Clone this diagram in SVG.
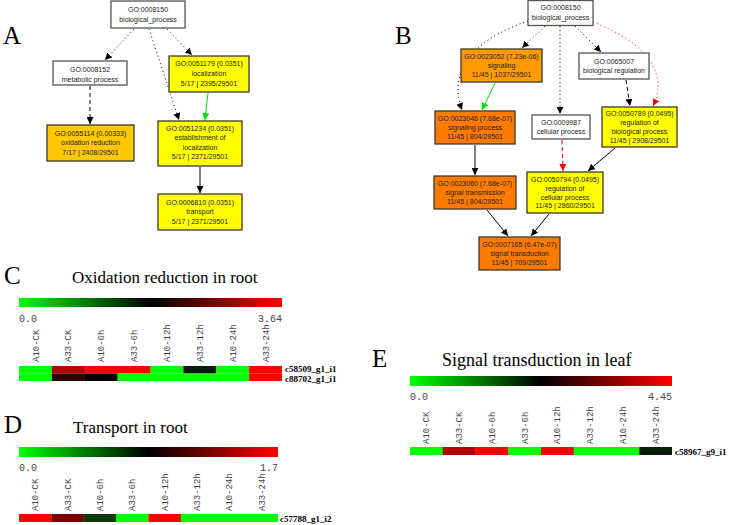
<svg xmlns="http://www.w3.org/2000/svg" width="736" height="525" viewBox="0 0 736 525">
<style>
.bx{stroke:#3a3a2a;stroke-width:1.3}
.w{fill:#ffffff;stroke:#555}
.y{fill:#ffff00}
.g{fill:#ffc800}
.o1{fill:#ff9a00}
.o2{fill:#ff7a00}
.t{font-family:"Liberation Sans",Arial,sans-serif;font-size:7px;fill:#222;text-anchor:middle}
.e{fill:none;stroke:#000;stroke-width:1}
.dot{stroke-dasharray:1,3}
.dash{stroke-dasharray:4,3}
.pl{font-family:"Liberation Serif","Times New Roman",serif;font-size:25px;fill:#000}
.ti{font-family:"Liberation Serif","Times New Roman",serif;font-size:17px;fill:#000}
.sc{font-family:"Liberation Mono","DejaVu Sans Mono",monospace;font-size:10px;fill:#444}
.cl{font-family:"Liberation Mono","DejaVu Sans Mono",monospace;font-size:9px;fill:#444}
.rl{font-family:"Liberation Serif","Times New Roman",serif;font-size:9px;font-weight:bold;fill:#000}
.gr{fill:#00ff00}.rd{fill:#ff0000}
</style>
<defs>
<marker id="ab" viewBox="0 0 10 10" refX="10" refY="5" markerWidth="7" markerHeight="7" markerUnits="userSpaceOnUse" orient="auto"><path d="M0,0 L10,5 L0,10 z" fill="#000"/></marker>
<marker id="ag" viewBox="0 0 10 10" refX="10" refY="5" markerWidth="7" markerHeight="7" markerUnits="userSpaceOnUse" orient="auto"><path d="M0,0 L10,5 L0,10 z" fill="#00dd00"/></marker>
<marker id="ar" viewBox="0 0 10 10" refX="10" refY="5" markerWidth="7" markerHeight="7" markerUnits="userSpaceOnUse" orient="auto"><path d="M0,0 L10,5 L0,10 z" fill="#ff0000"/></marker>
<linearGradient id="grad" x1="0" y1="0" x2="1" y2="0">
<stop offset="0" stop-color="#00ff00"/><stop offset="0.5" stop-color="#000000"/><stop offset="1" stop-color="#ff0000"/>
</linearGradient>
</defs>

<text class="pl" x="3" y="44">A</text>
<text class="pl" x="395" y="44">B</text>

<g id="connectors">
<line class="e dot" x1="134" y1="29" x2="105" y2="60" marker-end="url(#ab)"/>
<line class="e dot" x1="167" y1="29" x2="192" y2="55" marker-end="url(#ab)"/>
<line class="e dot" x1="149" y1="29" x2="179" y2="120" marker-end="url(#ab)"/>
<line class="e dash" x1="90" y1="86" x2="90" y2="124" marker-end="url(#ab)"/>
<line class="e" style="stroke:#00dd00" x1="208" y1="93" x2="205" y2="120" marker-end="url(#ag)"/>
<line class="e" x1="200" y1="167" x2="200" y2="193" marker-end="url(#ab)"/>

<line class="e dot" x1="545" y1="26" x2="522" y2="48" marker-end="url(#ab)"/>
<path class="e dot" d="M528,21 C472,40 448,72 462,110" marker-end="url(#ab)"/>
<line class="e dot" x1="560" y1="26" x2="560" y2="114" marker-end="url(#ab)"/>
<line class="e dot" x1="575" y1="26" x2="601" y2="52" marker-end="url(#ab)"/>
<path class="e dot" style="stroke:#ff0000" d="M593,22 C650,44 668,76 653,106" marker-end="url(#ar)"/>
<line class="e" style="stroke:#00dd00" x1="495" y1="83" x2="482" y2="110" marker-end="url(#ag)"/>
<line class="e dash" x1="626" y1="80" x2="630" y2="106" marker-end="url(#ab)"/>
<line class="e" x1="475" y1="145" x2="475" y2="175" marker-end="url(#ab)"/>
<line class="e dash" style="stroke:#ff0000" x1="562" y1="140" x2="563" y2="171" marker-end="url(#ar)"/>
<line class="e" x1="615" y1="148" x2="588" y2="171" marker-end="url(#ab)"/>
<line class="e" x1="487" y1="210" x2="508" y2="236" marker-end="url(#ab)"/>
<line class="e" x1="549" y1="214" x2="531" y2="236" marker-end="url(#ab)"/>
</g>

<g id="A_GO0008150"><rect class="bx w" x="111" y="1" width="74" height="27"/><text class="t" x="148" y="11.5">GO:0008150</text><text class="t" x="148" y="21.5">biological_process</text></g>
<g id="A_GO0008152"><rect class="bx w" x="53" y="61" width="74" height="24"/><text class="t" x="90" y="71.5">GO:0008152</text><text class="t" x="90" y="81.5">metabolic process</text></g>
<g id="A_GO0051179"><rect class="bx y" x="169" y="56" width="80" height="36"/><text class="t" x="209" y="65.5">GO:0051179 (0.0351)</text><text class="t" x="209" y="75.5">localization</text><text class="t" x="209" y="85.5">5/17 | 2395/29501</text></g>
<g id="A_GO0055114"><rect class="bx g" x="47" y="125" width="87" height="36"/><text class="t" x="90.5" y="135.5">GO:0055114 (0.00333)</text><text class="t" x="90.5" y="145">oxidation reduction</text><text class="t" x="90.5" y="154.5">7/17 | 2408/29501</text></g>
<g id="A_GO0051234"><rect class="bx y" x="158" y="121" width="84" height="45"/><text class="t" x="200" y="130.5">GO:0051234 (0.0351)</text><text class="t" x="200" y="140">establishment of</text><text class="t" x="200" y="149.5">localization</text><text class="t" x="200" y="159">5/17 | 2371/29501</text></g>
<g id="A_GO0006810"><rect class="bx y" x="158" y="194" width="84" height="36"/><text class="t" x="200" y="204.5">GO:0006810 (0.0351)</text><text class="t" x="200" y="214">transport</text><text class="t" x="200" y="223.5">5/17 | 2371/29501</text></g>

<g id="B_GO0008150"><rect class="bx w" x="528" y="0.5" width="65" height="25"/><text class="t" x="560.5" y="10">GO:0008150</text><text class="t" x="560.5" y="19.5">biological_process</text></g>
<g id="B_GO0023052"><rect class="bx o1" x="461" y="49" width="81" height="33"/><text class="t" x="501.5" y="58.5">GO:0023052 (7.23e-06)</text><text class="t" x="501.5" y="67.5">signaling</text><text class="t" x="501.5" y="76.5">11/45 | 1037/29501</text></g>
<g id="B_GO0065007"><rect class="bx w" x="579" y="53" width="70" height="26"/><text class="t" x="614" y="63.5">GO:0065007</text><text class="t" x="614" y="72.5">biological regulation</text></g>
<g id="B_GO0023046"><rect class="bx o2" x="435" y="111" width="80" height="33"/><text class="t" x="475" y="121">GO:0023046 (7.68e-07)</text><text class="t" x="475" y="129.5">signaling process</text><text class="t" x="475" y="138.5">11/45 | 804/29501</text></g>
<g id="B_GO0009987"><rect class="bx w" x="532" y="115" width="58" height="24"/><text class="t" x="561" y="125">GO:0009987</text><text class="t" x="561" y="133.5">cellular process</text></g>
<g id="B_GO0050789"><rect class="bx y" x="602" y="107" width="75" height="40"/><text class="t" x="639.5" y="116">GO:0050789 (0.0495)</text><text class="t" x="639.5" y="125">regulation of</text><text class="t" x="639.5" y="133.5">biological process</text><text class="t" x="639.5" y="142.5">11/45 | 2908/29501</text></g>
<g id="B_GO0023060"><rect class="bx o2" x="434" y="176" width="82" height="33"/><text class="t" x="475" y="186">GO:0023060 (7.68e-07)</text><text class="t" x="475" y="195">signal transmission</text><text class="t" x="475" y="203.5">11/45 | 804/29501</text></g>
<g id="B_GO0050794"><rect class="bx y" x="527" y="172" width="76" height="41"/><text class="t" x="565" y="181.5">GO:0050794 (0.0495)</text><text class="t" x="565" y="190.5">regulation of</text><text class="t" x="565" y="199.5">cellular process</text><text class="t" x="565" y="208">11/45 | 2860/29501</text></g>
<g id="B_GO0007165"><rect class="bx o2" x="479" y="237" width="81" height="33"/><text class="t" x="519.5" y="247">GO:0007165 (6.47e-07)</text><text class="t" x="519.5" y="256">signal transduction</text><text class="t" x="519.5" y="264.5">11/45 | 709/29501</text></g>

<g id="heatmap_C">
<text class="pl" x="4" y="284">C</text>
<text class="ti" x="72" y="283">Oxidation reduction in root</text>
<rect x="19" y="298" width="263" height="9" fill="url(#grad)"/>
<text class="sc" x="19" y="322">0.0</text>
<text class="sc" x="282" y="322" text-anchor="end">3.64</text>
<g class="cl">
<text transform="translate(38.5,362) rotate(-90)">A10-CK</text>
<text transform="translate(71.3,362) rotate(-90)">A33-CK</text>
<text transform="translate(104.2,362) rotate(-90)">A10-6h</text>
<text transform="translate(137.1,362) rotate(-90)">A33-6h</text>
<text transform="translate(169.9,362) rotate(-90)">A10-12h</text>
<text transform="translate(202.8,362) rotate(-90)">A33-12h</text>
<text transform="translate(235.7,362) rotate(-90)">A10-24h</text>
<text transform="translate(268.6,362) rotate(-90)">A33-24h</text>
</g>
<rect class="gr" x="19" y="366" width="33" height="7.5"/>
<rect x="51.9" y="366" width="33" height="7.5" fill="#b00000"/>
<rect class="rd" x="84.7" y="366" width="66" height="7.5"/>
<rect class="gr" x="150.5" y="366" width="33" height="7.5"/>
<rect x="183.4" y="366" width="33" height="7.5" fill="#0a1a0a"/>
<rect class="gr" x="216.2" y="366" width="33" height="7.5"/>
<rect class="rd" x="249.1" y="366" width="32.9" height="7.5"/>
<rect class="gr" x="19" y="373.5" width="33" height="7.5"/>
<rect x="51.9" y="373.5" width="33" height="7.5" fill="#2e0505"/>
<rect x="84.7" y="373.5" width="33" height="7.5" fill="#080000"/>
<rect class="gr" x="117.6" y="373.5" width="131.6" height="7.5"/>
<rect class="rd" x="249.1" y="373.5" width="32.9" height="7.5"/>
<text class="rl" x="285" y="372">c58509_g1_i1</text>
<text class="rl" x="285" y="382">c88702_g1_i1</text>
</g>

<g id="heatmap_D">
<text class="pl" x="4" y="433">D</text>
<text class="ti" x="73" y="433">Transport in root</text>
<rect x="19" y="447" width="259" height="10" fill="url(#grad)"/>
<text class="sc" x="19" y="471">0.0</text>
<text class="sc" x="278" y="471" text-anchor="end">1.7</text>
<g class="cl">
<text transform="translate(38.2,511) rotate(-90)">A10-CK</text>
<text transform="translate(70.6,511) rotate(-90)">A33-CK</text>
<text transform="translate(102.9,511) rotate(-90)">A10-6h</text>
<text transform="translate(135.3,511) rotate(-90)">A33-6h</text>
<text transform="translate(167.7,511) rotate(-90)">A10-12h</text>
<text transform="translate(200.1,511) rotate(-90)">A33-12h</text>
<text transform="translate(232.4,511) rotate(-90)">A10-24h</text>
<text transform="translate(264.8,511) rotate(-90)">A33-24h</text>
</g>
<rect class="rd" x="19" y="514" width="32.5" height="8"/>
<rect x="51.4" y="514" width="32.5" height="8" fill="#7a0000"/>
<rect x="83.8" y="514" width="32.5" height="8" fill="#0e3a0e"/>
<rect class="gr" x="116.1" y="514" width="32.5" height="8"/>
<rect class="rd" x="148.5" y="514" width="32.5" height="8"/>
<rect class="gr" x="180.9" y="514" width="97.1" height="8"/>
<text class="rl" x="280" y="522">c57788_g1_i2</text>
</g>

<g id="heatmap_E">
<text class="pl" x="372" y="367">E</text>
<text class="ti" x="442" y="366" style="font-size:18px">Signal transduction in leaf</text>
<rect x="410" y="376" width="262" height="10" fill="url(#grad)"/>
<text class="sc" x="410" y="400">0.0</text>
<text class="sc" x="672" y="400" text-anchor="end">4.45</text>
<g class="cl">
<text transform="translate(429.4,444) rotate(-90)">A10-CK</text>
<text transform="translate(462.1,444) rotate(-90)">A33-CK</text>
<text transform="translate(494.9,444) rotate(-90)">A10-6h</text>
<text transform="translate(527.6,444) rotate(-90)">A33-6h</text>
<text transform="translate(560.4,444) rotate(-90)">A10-12h</text>
<text transform="translate(593.1,444) rotate(-90)">A33-12h</text>
<text transform="translate(625.9,444) rotate(-90)">A10-24h</text>
<text transform="translate(658.6,444) rotate(-90)">A33-24h</text>
</g>
<rect class="gr" x="410" y="447" width="33" height="8"/>
<rect x="442.75" y="447" width="33" height="8" fill="#b00000"/>
<rect class="rd" x="475.5" y="447" width="33" height="8"/>
<rect class="gr" x="508.25" y="447" width="33" height="8"/>
<rect class="rd" x="541" y="447" width="33" height="8"/>
<rect class="gr" x="573.75" y="447" width="65.5" height="8"/>
<rect x="639.25" y="447" width="32.75" height="8" fill="#0a200a"/>
<text class="rl" x="675" y="455">c58967_g9_i1</text>
</g>
</svg>
